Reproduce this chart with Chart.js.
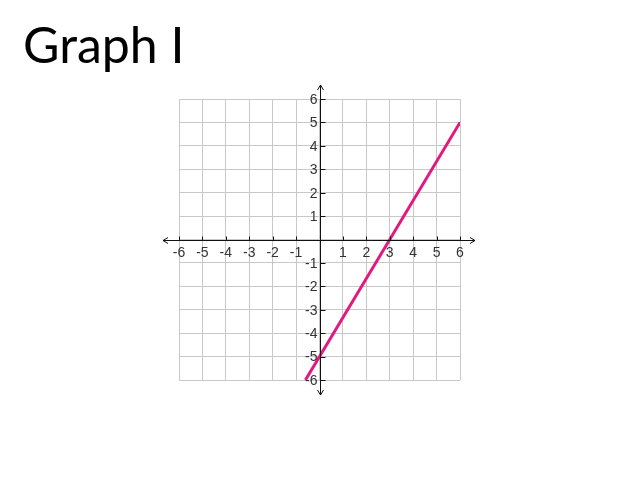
<!DOCTYPE html>
<html>
<head>
<meta charset="utf-8">
<script src="https://cdn.jsdelivr.net/npm/chart.js@4"></script>
<style>
  body { margin: 0; background: #fff; }
  #wrap { position: relative; width: 638px; height: 479px; }
  #title { position: absolute; left: 23px; top: 19px; font-family: Lato, sans-serif; font-size: 50px; line-height: 50px; color: #000; }
  canvas { position: absolute; left: 0; top: 0; }
</style>
</head>
<body>
<div id="wrap">
  <canvas id="graph" width="638" height="479"></canvas>
  <div id="title">Graph I</div>
</div>
<script>
// tick labels on both axes
const tickValues = [-6, -5, -4, -3, -2, -1, 0, 1, 2, 3, 4, 5, 6];
// the graphed line, read from its ends
const lineX = [-0.6, 6];
const lineY = [-6, 5];

const axesPlugin = {
  id: "axes",
  afterDatasetsDraw(chart) {
    const ctx = chart.ctx;
    const xs = chart.scales.x;
    const ys = chart.scales.y;
    const ox = Math.round(xs.getPixelForValue(0)) + 0.5;
    const oy = Math.round(ys.getPixelForValue(0)) + 0.5;
    const left = xs.getPixelForValue(-6) - 16;
    const right = xs.getPixelForValue(6) + 15;
    const top = ys.getPixelForValue(6) - 14;
    const bottom = ys.getPixelForValue(-6) + 15;
    ctx.save();
    ctx.strokeStyle = "#111";
    ctx.lineWidth = 1;
    ctx.beginPath();
    ctx.moveTo(left, oy); ctx.lineTo(right, oy);
    ctx.moveTo(ox, top); ctx.lineTo(ox, bottom);
    // arrow heads
    ctx.moveTo(left + 5, oy - 3); ctx.lineTo(left, oy); ctx.lineTo(left + 5, oy + 3);
    ctx.moveTo(right - 5, oy - 3); ctx.lineTo(right, oy); ctx.lineTo(right - 5, oy + 3);
    ctx.moveTo(ox - 3, top + 5); ctx.lineTo(ox, top); ctx.lineTo(ox + 3, top + 5);
    ctx.moveTo(ox - 3, bottom - 5); ctx.lineTo(ox, bottom); ctx.lineTo(ox + 3, bottom - 5);
    // tick marks
    tickValues.forEach((v) => {
      if (v === 0) return;
      const px = Math.round(xs.getPixelForValue(v)) + 0.5;
      ctx.moveTo(px, oy); ctx.lineTo(px, oy - 4);
      const py = Math.round(ys.getPixelForValue(v)) + 0.5;
      ctx.moveTo(ox, py); ctx.lineTo(ox + 5, py);
    });
    ctx.stroke();
    ctx.fillStyle = "#333";
    ctx.font = "14px Arial, 'Liberation Sans', sans-serif";
    tickValues.forEach((v) => {
      if (v === 0) return;
      ctx.textAlign = "center";
      ctx.textBaseline = "top";
      ctx.fillText(String(v), xs.getPixelForValue(v), oy + 6);
      ctx.textAlign = "right";
      ctx.textBaseline = "middle";
      ctx.fillText(String(v), ox - 3, ys.getPixelForValue(v) + 1);
    });
    ctx.restore();
  },
};

const ctx = document.getElementById("graph");
const graph = new Chart(ctx, {
  type: "scatter",
  data: {
    datasets: [
      {
        label: "Line",
        data: lineX.map((x, i) => ({ x: x, y: lineY[i] })),
        showLine: true,
        borderColor: "#e3187f",
        borderWidth: 3,
        pointRadius: 0,
        fill: false,
      },
    ],
  },
  options: {
    responsive: false,
    animation: false,
    devicePixelRatio: 1,
    layout: { padding: { left: 179, right: 178, top: 99, bottom: 99 } },
    plugins: {
      legend: { display: false },
      tooltip: { enabled: false },
      title: { display: false },
    },
    scales: {
      x: {
        type: "linear",
        min: -6,
        max: 6,
        afterBuildTicks: (s) => { s.ticks = tickValues.map((v) => ({ value: v })); },
        ticks: { display: false },
        grid: { color: "#c8c8c8", drawTicks: false },
        border: { display: false },
      },
      y: {
        type: "linear",
        min: -6,
        max: 6,
        afterBuildTicks: (s) => { s.ticks = tickValues.map((v) => ({ value: v })); },
        ticks: { display: false },
        grid: { color: "#c8c8c8", drawTicks: false },
        border: { display: false },
      },
    },
  },
  plugins: [axesPlugin],
});
</script>
</body>
</html>
